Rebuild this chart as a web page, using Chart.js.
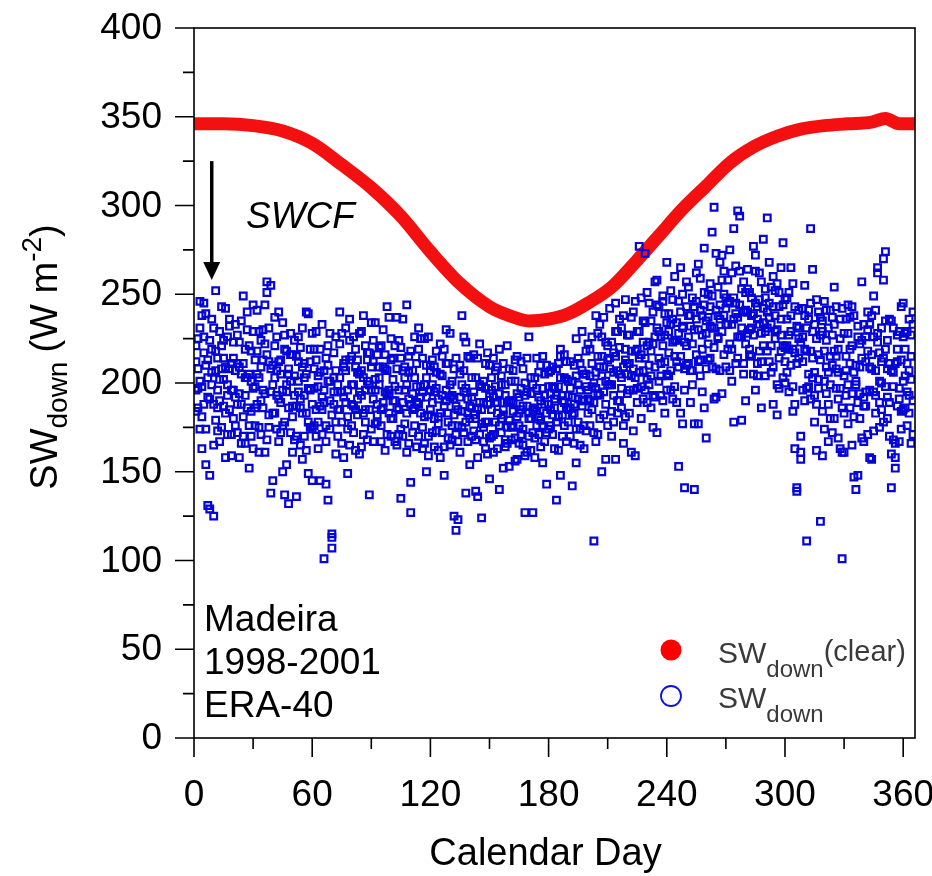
<!DOCTYPE html>
<html>
<head>
<meta charset="utf-8">
<script src="https://cdn.jsdelivr.net/npm/chart.js@4.4.0/dist/chart.umd.min.js"></script>
<style>
  html, body { margin: 0; padding: 0; background: #fff; }
  canvas { display: block; }
</style>
</head>
<body>
<canvas id="sw" width="932" height="876" style="width:932px;height:876px"></canvas>
<script>
(() => {
  'use strict';

  // all-sky SW down, one value per calendar day, one array per year
  const sw1998 = [
    212,186,231,198,245,174,203,129,219,188, 252,196,167,208,224,183,199,236,171,214,
    192,227,158,205,181,219,240,176,201,163, 213,188,229,171,196,244,257,182,208,145,
    221,193,167,205,234,178,199,132,216,187, 204,170,226,191,157,211,183,239,196,174,
    208,185,163,219,192,101,176,201,228,115, 188,207,170,222,195,158,213,181,236,199,
    172,209,191,228,164,203,185,217,137,196, 212,234,178,199,221,186,162,207,193,225,
    180,198,237,171,214,189,203,244,166,127, 194,176,211,188,225,163,199,150,182,207,
    172,195,218,181,158,204,187,230,169,192, 176,208,117,185,161,199,226,178,191,154,
    203,182,168,214,189,124,175,197,160,210, 185,171,198,163,219,180,152,193,175,208,
    168,189,201,157,183,212,174,127,195,180, 162,199,186,214,171,190,155,205,183,198,
    176,209,191,134,198,215,182,203,167,193, 212,142,188,225,199,174,207,190,218,183,
    204,226,111,197,215,233,150,209,188,221, 242,199,217,157,229,205,186,238,213,194,
    227,161,208,246,219,277,198,235,214,251, 223,204,240,192,258,229,211,246,183,234,
    217,252,236,198,224,153,265,231,208,243, 226,189,248,140,236,212,259,227,244,169,
    237,256,209,299,241,225,268,194,250,233, 219,246,262,178,239,297,226,253,211,241,
    264,230,248,205,272,236,218,257,242,229, 293,245,221,260,238,199,251,227,244,212,
    236,219,265,198,243,141,225,170,212,238, 111,205,287,229,193,247,216,122,235,201,
    224,188,241,210,233,197,219,163,101,228, 207,244,186,221,147,199,232,180,214,192,
    226,171,209,238,195,183,262,217,200,178, 274,208,189,141,231,166,212,197,243,185,
    219,176,236,202,190
  ];
  const sw1999 = [
    184,225,201,163,217,239,192,148,206,231, 179,214,190,243,202,158,226,185,211,196,
    233,172,209,188,249,166,203,221,184,197, 176,218,203,190,230,161,251,212,138,199,
    183,207,240,172,196,219,154,205,228,181, 193,136,212,186,231,170,205,149,219,188,
    176,213,198,145,185,207,167,221,190,107, 203,178,195,240,166,211,189,149,224,176,
    199,219,182,205,229,171,196,213,185,234, 167,202,188,220,176,209,195,243,183,170,
    214,190,165,224,135,207,177,199,215,144, 207,186,164,219,198,175,225,192,170,210,
    189,164,206,177,222,193,148,211,183,199, 193,125,187,167,210,238,172,197,183,214,
    170,195,139,186,222,177,201,163,188,146, 196,214,178,189,140,204,185,168,221,179,
    190,175,213,181,166,197,208,159,187,226, 180,127,203,176,192,164,215,188,172,206,
    194,171,186,208,162,219,190,176,202,185, 170,201,183,155,214,196,229,176,205,191,
    219,185,200,238,171,209,226,195,157,213, 199,223,178,245,207,190,231,166,219,205,
    211,237,196,159,229,206,248,223,273,202, 245,218,193,257,231,201,226,249,212,268,
    239,207,223,260,189,246,215,232,141,221, 254,238,207,230,262,177,241,219,276,235,
    222,243,285,231,208,254,236,272,216,248, 258,207,233,287,245,226,263,179,240,222,
    228,251,215,239,263,204,247,228,281,253, 231,268,206,243,225,256,214,236,279,220,
    206,251,229,184,217,139,241,223,196,255, 231,198,245,214,178,225,202,237,159,218,
    241,206,180,227,254,215,191,236,161,204, 193,228,211,165,238,201,148,222,257,187,
    212,240,196,157,226,207,265,189,231,214, 198,224,170,235,206,158,227,191,213,245,
    204,229,183,215,240
  ];
  const sw2000 = [
    221,197,174,238,188,210,131,224,199,165, 207,186,229,175,214,242,193,208,159,223,
    176,211,194,235,170,203,186,152,218,229, 198,241,175,209,186,222,168,231,195,210,
    237,174,212,189,150,227,195,208,172,216, 224,187,201,165,209,193,240,178,212,145,
    197,229,178,206,171,189,214,134,201,182, 217,160,199,185,228,192,207,174,213,188,
    226,185,206,160,193,238,178,201,217,174, 191,177,216,203,185,230,208,171,196,213,
    202,221,186,196,174,236,209,183,191,218, 185,226,198,170,192,214,181,203,159,196,
    213,180,197,162,205,172,219,190,211,165, 201,182,171,123,192,175,207,138,215,187,
    192,216,180,158,199,185,167,211,178,194, 170,192,207,183,176,199,211,164,189,153,
    201,184,169,215,192,171,187,200,161,183, 194,172,158,197,181,210,176,193,143,188,
    207,182,197,178,211,148,193,216,186,201, 186,192,166,204,178,211,190,163,198,222,
    190,211,172,206,194,180,215,237,201,176, 214,184,206,229,190,220,203,176,247,211,
    183,218,240,203,197,229,216,191,234,221, 210,235,175,226,244,214,193,221,239,205,
    229,196,247,215,234,209,240,177,223,257, 211,232,199,243,216,267,204,238,186,228,
    250,214,231,191,273,238,207,229,263,242, 233,275,219,248,211,237,294,226,205,251,
    240,216,231,277,196,243,262,212,234,248, 218,237,254,209,229,182,243,265,221,200,
    248,227,210,256,188,232,214,161,242,219, 197,236,218,264,206,188,240,213,229,174,
    209,231,199,172,218,243,206,225,186,161, 236,199,219,243,181,210,226,194,169,233,
    195,218,233,208,173,241,223,201,185,258, 219,192,236,207,168,211,187,229,174,201,
    186,211,193,227,171
  ];
  const sw2001 = [
    196,208,246,181,226,154,213,191,236,125, 218,173,202,221,187,209,171,232,196,180,
    207,188,223,166,211,193,230,205,170,244, 186,205,161,224,213,194,216,175,255,183,
    203,226,191,213,176,137,218,186,201,161, 168,215,195,220,183,203,162,197,175,228,
    219,170,204,187,233,196,143,210,174,113, 195,226,185,203,178,209,231,196,165,215,
    187,162,213,195,207,183,221,168,199,209, 224,196,182,209,167,189,216,194,237,180,
    190,167,208,185,220,170,196,161,206,188, 172,203,189,231,183,195,166,210,226,185,
    199,209,173,191,183,215,164,196,178,228, 168,191,214,176,205,184,195,223,167,180,
    186,173,203,136,171,198,189,178,217,169, 203,161,189,209,194,172,182,199,166,190,
    176,207,156,194,176,185,165,193,214,170, 203,185,169,184,206,179,197,167,210,174,
    185,198,163,193,181,203,170,189,212,178, 197,182,210,174,191,165,187,205,173,196,
    176,198,189,167,228,193,204,182,223,199, 208,170,193,215,183,236,197,209,181,227,
    196,204,173,218,189,214,180,207,196,189, 199,186,222,209,172,243,204,190,227,196,
    204,233,191,224,212,228,183,250,196,210, 238,207,222,177,246,230,213,195,251,208,
    213,232,249,220,192,226,244,258,238,209, 245,222,201,236,266,214,244,231,257,190,
    253,219,238,227,245,211,233,186,221,204, 240,212,233,188,252,230,197,218,203,247,
    221,195,238,219,163,211,231,157,226,190, 218,241,191,203,233,162,197,227,184,246,
    194,167,215,237,180,208,169,197,242,183, 215,177,237,194,206,140,189,209,224,167,
    187,230,158,216,249,193,228,175,212,270, 235,180,211,160,198,152,219,167,184,226,
    228,195,207,166,233
  ];

  // clear-sky SW down (thick red band)
  const clearDays   = [0, 15, 30, 45, 60, 75, 90, 105, 120, 135, 150, 160, 170, 180, 190, 200, 212, 224, 236, 248, 260, 272, 284, 296, 308, 320, 332, 344, 351, 358, 366];
  const clearValues = [346, 346, 345, 342, 335, 323, 310, 294, 274, 256, 243, 238, 235, 236, 239, 245, 254, 268, 283, 298, 311, 324, 333, 339, 343, 345, 346, 347, 349, 346, 346];

  const xMajorTicks = [0, 60, 120, 180, 240, 300, 360];
  const xMinorTicks = [30, 90, 150, 210, 270, 330];
  const yMajorTicks = [0, 50, 100, 150, 200, 250, 300, 350, 400];
  const yMinorTicks = [25, 75, 125, 175, 225, 275, 325, 375];

  const siteLines = ['Madeira', '1998-2001', 'ERA-40'];
  const arrowDay = 9, arrowFrom = 325, arrowTo = 258; // SWCF arrow, in data units

  const FONT = '"Liberation Sans", Arial, sans-serif';

  const blueData = [];
  [sw1998, sw1999, sw2000, sw2001].forEach(arr => {
    arr.forEach((v, i) => blueData.push({ x: i + 1, y: v }));
  });
  const redData = clearDays.map((d, i) => ({ x: d, y: clearValues[i] }));

  // draw a run of text pieces (for sub/superscripts); returns end x
  function drawRich(ctx, parts, x, y) {
    parts.forEach(p => {
      ctx.font = (p.italic ? 'italic ' : '') + p.size + 'px ' + FONT;
      ctx.fillText(p.t, x, y + (p.dy || 0));
      x += ctx.measureText(p.t).width + (p.gap || 0);
    });
    return x;
  }

  const overlay = {
    id: 'overlay',
    afterDraw(chart) {
      const { ctx, chartArea: a, scales: { x, y } } = chart;
      ctx.save();
      ctx.strokeStyle = '#000';
      ctx.fillStyle = '#000';
      ctx.lineWidth = 1.6;

      // frame
      ctx.strokeRect(a.left, a.top, a.right - a.left, a.bottom - a.top);

      // ticks
      ctx.beginPath();
      yMajorTicks.forEach(v => { const p = y.getPixelForValue(v); ctx.moveTo(a.left - 19, p); ctx.lineTo(a.left, p); });
      yMinorTicks.forEach(v => { const p = y.getPixelForValue(v); ctx.moveTo(a.left - 11, p); ctx.lineTo(a.left, p); });
      xMajorTicks.forEach(v => { const p = x.getPixelForValue(v); ctx.moveTo(p, a.bottom); ctx.lineTo(p, a.bottom + 19); });
      xMinorTicks.forEach(v => { const p = x.getPixelForValue(v); ctx.moveTo(p, a.bottom); ctx.lineTo(p, a.bottom + 11); });
      ctx.stroke();

      // tick labels
      ctx.font = '37px ' + FONT;
      ctx.textAlign = 'right';
      ctx.textBaseline = 'middle';
      yMajorTicks.forEach(v => ctx.fillText(String(v), a.left - 32, y.getPixelForValue(v) + 1));
      ctx.textAlign = 'center';
      ctx.textBaseline = 'alphabetic';
      xMajorTicks.forEach(v => ctx.fillText(String(v), x.getPixelForValue(v), a.bottom + 68));

      // x title
      ctx.font = '38px ' + FONT;
      ctx.fillText('Calendar Day', (a.left + a.right) / 2 - 9, a.bottom + 127);

      // y title, rotated
      ctx.save();
      ctx.textAlign = 'left';
      const yParts = [
        { t: 'SW', size: 38 },
        { t: 'down', size: 28, dy: 10, gap: 9 },
        { t: '(W m', size: 38 },
        { t: '-2', size: 28, dy: -16 },
        { t: ')', size: 38 }
      ];
      let len = 0;
      yParts.forEach(p => { ctx.font = p.size + 'px ' + FONT; len += ctx.measureText(p.t).width + (p.gap || 0); });
      ctx.translate(57, (a.top + a.bottom) / 2 - 26 + len / 2);
      ctx.rotate(-Math.PI / 2);
      drawRich(ctx, yParts, 0, 0);
      ctx.restore();

      // SWCF arrow
      const ax = x.getPixelForValue(arrowDay);
      const ay0 = y.getPixelForValue(arrowFrom);
      const ay1 = y.getPixelForValue(arrowTo);
      ctx.lineWidth = 3.5;
      ctx.beginPath();
      ctx.moveTo(ax, ay0);
      ctx.lineTo(ax, ay1 - 14);
      ctx.stroke();
      ctx.beginPath();
      ctx.moveTo(ax - 8.5, ay1 - 18);
      ctx.lineTo(ax + 8.5, ay1 - 18);
      ctx.lineTo(ax, ay1);
      ctx.closePath();
      ctx.fill();

      ctx.textAlign = 'left';
      ctx.font = 'italic 37px ' + FONT;
      ctx.fillText('SWCF', a.left + 52, a.top + 200);

      // site / period / source
      ctx.font = '37px ' + FONT;
      siteLines.forEach((t, i) => ctx.fillText(t, a.left + 10, a.bottom - 107 + i * 43));

      // legend
      const lx = a.left + 477;
      ctx.fillStyle = '#ff0000';
      ctx.beginPath();
      ctx.arc(lx, a.bottom - 88, 10.5, 0, Math.PI * 2);
      ctx.fill();
      ctx.strokeStyle = '#1010e0';
      ctx.lineWidth = 1.8;
      ctx.beginPath();
      ctx.arc(lx, a.bottom - 42, 10, 0, Math.PI * 2);
      ctx.stroke();

      ctx.fillStyle = '#3a3a3a';
      drawRich(ctx, [
        { t: 'SW', size: 30 },
        { t: 'down', size: 24, dy: 14 },
        { t: '(clear)', size: 29, dy: -2 }
      ], lx + 47, a.bottom - 75);
      drawRich(ctx, [
        { t: 'SW', size: 30 },
        { t: 'down', size: 24, dy: 14 }
      ], lx + 47, a.bottom - 30);

      ctx.restore();
    }
  };

  new Chart(document.getElementById('sw'), {
    type: 'scatter',
    data: {
      datasets: [
        {
          label: 'SWdown',
          data: blueData,
          order: 0,
          pointStyle: 'rect',
          pointRadius: 4.7,
          pointBorderWidth: 2.2,
          pointBorderColor: '#0505d8',
          pointBackgroundColor: 'rgba(255,255,255,0)',
          showLine: false
        },
        {
          label: 'SWdown(clear)',
          data: redData,
          order: 1,
          showLine: true,
          borderColor: '#f41010',
          borderWidth: 13,
          cubicInterpolationMode: 'monotone',
          pointRadius: 0
        }
      ]
    },
    options: {
      responsive: false,
      animation: false,
      devicePixelRatio: 1,
      layout: { padding: { left: 194, right: 17, top: 28, bottom: 138 } },
      plugins: { legend: { display: false }, tooltip: { enabled: false } },
      scales: {
        x: {
          type: 'linear', min: 0, max: 366,
          grid: { display: false, drawTicks: false },
          border: { display: false },
          ticks: { display: false },
          afterFit: s => { s.height = 0; }
        },
        y: {
          type: 'linear', min: 0, max: 400,
          grid: { display: false, drawTicks: false },
          border: { display: false },
          ticks: { display: false },
          afterFit: s => { s.width = 0; }
        }
      }
    },
    plugins: [overlay]
  });
})();
</script>
</body>
</html>
